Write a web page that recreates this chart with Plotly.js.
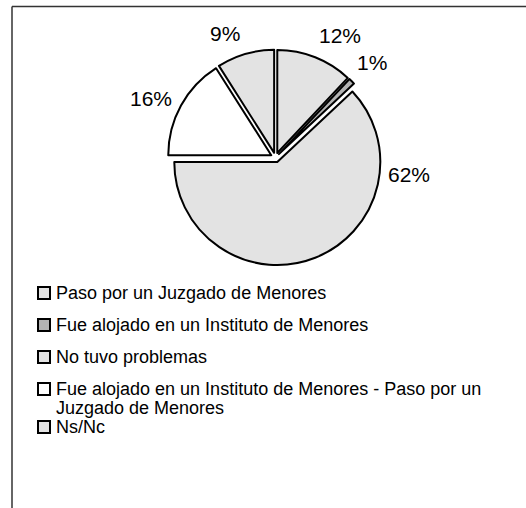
<!DOCTYPE html>
<html><head><meta charset="utf-8">
<script src="https://cdn.plot.ly/plotly-3.0.1.min.js"></script>
<style>html,body{margin:0;padding:0;background:#fff}#chart{width:526px;height:508px}</style>
</head><body><div id="chart"></div>
<script>
// ---- data ----
const categories = [
  "Paso por un Juzgado de Menores",
  "Fue alojado en un Instituto de Menores",
  "No tuvo problemas",
  "Fue alojado en un Instituto de Menores - Paso por un Juzgado de Menores",
  "Ns/Nc"
];
const percentages = [12, 1, 62, 16, 9];
const sliceColors = ["#e3e3e3", "#b3b3b3", "#e3e3e3", "#ffffff", "#e3e3e3"];

// ---- layout constants (pixels) ----
const W = 526, H = 508;
const FONT = "Arial, 'Liberation Sans', sans-serif";
const pieCx = 275.5, pieCy = 157.5, pieR = 103, pull = 0.047;
const half = pieR * (1 + pull);
// percent label centres (px)
const labelPosPx = [[340, 36], [372, 62], [409, 174], [151, 98], [225, 34]];
// legend rows (px)
const legendRowY = [293, 325, 357, 389, 427];
const legendLineGap = 19;
const legendBoxX = 38, legendBoxSize = 12, legendTextX = 54;
const legendFontSize = 18, labelFontSize = 21;
const wrapChars = 52;

const px = x => x / W;
const py = y => 1 - y / H;

function wrap(text, n) {
  const words = text.split(" "); const lines = []; let cur = "";
  words.forEach(w => {
    const t = cur ? cur + " " + w : w;
    if (t.length > n && cur) { lines.push(cur); cur = w; } else cur = t;
  });
  if (cur) lines.push(cur);
  return lines;
}

const trace = {
  type: "pie",
  labels: categories,
  values: percentages,
  sort: false,
  direction: "clockwise",
  rotation: 0,
  pull: percentages.map(() => pull),
  marker: { colors: sliceColors, line: { color: "#000000", width: 2 } },
  textinfo: "none",
  hoverinfo: "label+percent",
  showlegend: false,
  domain: { x: [px(pieCx - half), px(pieCx + half)], y: [py(pieCy + half), py(pieCy - half)] }
};

const annotations = [];
const shapes = [];
percentages.forEach((v, i) => {
  annotations.push({
    xref: "paper", yref: "paper", x: px(labelPosPx[i][0]), y: py(labelPosPx[i][1]),
    xanchor: "center", yanchor: "middle", showarrow: false,
    text: v + "%", font: { family: FONT, size: labelFontSize, color: "#000" }
  });
});
categories.forEach((c, i) => {
  const y0 = legendRowY[i];
  shapes.push({
    type: "rect", xref: "paper", yref: "paper",
    x0: px(legendBoxX), x1: px(legendBoxX + legendBoxSize),
    y0: py(y0 - legendBoxSize / 2), y1: py(y0 + legendBoxSize / 2),
    fillcolor: sliceColors[i], line: { color: "#000", width: 2 }
  });
  wrap(c, wrapChars).forEach((ln, k) => {
    annotations.push({
      xref: "paper", yref: "paper", x: px(legendTextX), y: py(y0 + k * legendLineGap),
      xanchor: "left", yanchor: "middle", showarrow: false,
      text: ln, font: { family: FONT, size: legendFontSize, color: "#000" }
    });
  });
});
// outer frame (top and left edges visible)
shapes.push({ type: "line", xref: "paper", yref: "paper", x0: px(12), x1: 1.01, y0: py(6.5), y1: py(6.5), line: { color: "#333", width: 1.5 } });
shapes.push({ type: "line", xref: "paper", yref: "paper", x0: px(12), x1: px(12), y0: py(6.5), y1: -0.01, line: { color: "#333", width: 1.5 } });

const layout = {
  width: W, height: H,
  margin: { l: 0, r: 0, t: 0, b: 0 },
  paper_bgcolor: "#ffffff",
  showlegend: false,
  annotations: annotations,
  shapes: shapes
};
Plotly.newPlot("chart", [trace], layout, { staticPlot: true });
</script></body></html>
